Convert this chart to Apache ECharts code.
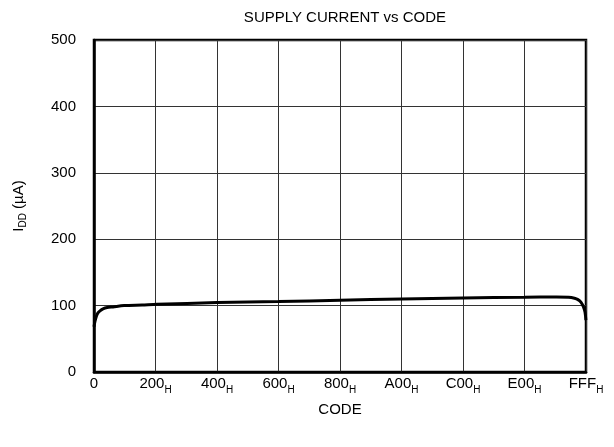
<!DOCTYPE html>
<html><head><meta charset="utf-8">
<script src="https://cdn.jsdelivr.net/npm/echarts@6/dist/echarts.min.js"></script>
<style>html,body{margin:0;padding:0;background:#fff}#c{width:614px;height:447px}</style>
</head><body><div id="c"></div>
<script>
const codes = [0, 8, 20, 33, 50, 75, 110, 158, 250, 400, 524, 1024, 1536, 2048, 2560, 3072, 3584, 3850, 3950, 4000, 4029, 4055, 4075, 4088, 4095];
const iddValues = [68, 76, 84, 89, 92, 95, 97, 98, 100, 101, 102, 104.5, 106, 108, 110, 111.5, 112.5, 113, 112.5, 111, 109, 105, 98, 90, 78];
const xTickLabels = ['0', '200', '400', '600', '800', 'A00', 'C00', 'E00', 'FFF'];
const yTicks = [0, 100, 200, 300, 400, 500];

const chart = echarts.init(document.getElementById('c'));
const font = 'Liberation Sans, Arial, sans-serif';
chart.setOption({
  animation: false,
  title: { text: 'SUPPLY CURRENT vs CODE', left: 340, textAlign: 'center', top: 5,
    textStyle: { fontFamily: font, fontSize: 15, fontWeight: 'normal', color: '#000' } },
  grid: { left: 94, right: 28, top: 40, bottom: 75, show: true, borderColor: '#000', borderWidth: 2.5 },
  xAxis: {
    type: 'value', min: 0, max: 4096, interval: 512,
    name: 'CODE', nameLocation: 'middle', nameGap: 30,
    nameTextStyle: { fontFamily: font, fontSize: 15, color: '#000' },
    axisLine: { lineStyle: { color: '#000', width: 2.5 } },
    axisTick: { show: false },
    splitLine: { lineStyle: { color: '#333', width: 1 } },
    axisLabel: {
      margin: 1, fontFamily: font, fontSize: 15, color: '#000',
      formatter: function (v) {
        const i = Math.round(v / 512);
        const t = xTickLabels[i];
        return i === 0 ? '{m|' + t + '}' : '{m|' + t + '}{s|H}';
      },
      rich: {
        m: { fontFamily: font, fontSize: 15, color: '#000', lineHeight: 22, verticalAlign: 'middle' },
        s: { fontFamily: font, fontSize: 10, color: '#000', lineHeight: 10, verticalAlign: 'bottom' }
      }
    }
  },
  yAxis: {
    type: 'value', min: yTicks[0], max: yTicks[yTicks.length - 1], interval: 100,
    name: 'I{s|DD} (µA)', nameLocation: 'middle', nameGap: 66, nameRotate: 90,
    nameTextStyle: { fontFamily: font, fontSize: 15, color: '#000',
      rich: { s: { fontFamily: font, fontSize: 10, color: '#000', padding: [8, 0, 0, 0] } } },
    axisLine: { show: true, lineStyle: { color: '#000', width: 2.5 } },
    axisTick: { show: false },
    splitLine: { lineStyle: { color: '#333', width: 1 } },
    axisLabel: { margin: 18, fontFamily: font, fontSize: 15, color: '#000' }
  },
  series: [{
    type: 'line', smooth: 0.3, symbol: 'none',
    data: codes.map((c, i) => [c, iddValues[i]]),
    lineStyle: { color: '#000', width: 3 }
  }]
});
</script></body></html>
